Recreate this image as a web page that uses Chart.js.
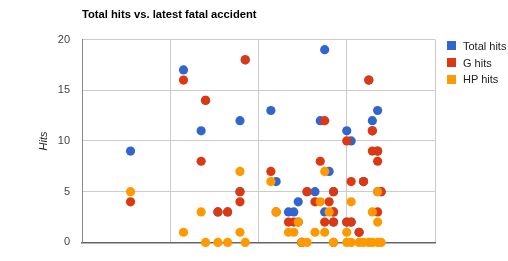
<!DOCTYPE html>
<html><head><meta charset="utf-8">
<script src="https://cdn.jsdelivr.net/npm/chart.js@4"></script>
<style>
html,body{margin:0;padding:0;background:#fff;overflow:hidden}
#wrap{position:relative;width:508px;height:261px;overflow:hidden}
#c{position:absolute;left:0;top:0}
#title{position:absolute;left:82px;top:7.5px;line-height:13px;font:bold 11.2px "Liberation Sans",Arial,sans-serif;color:#000;white-space:nowrap}
#legend{position:absolute;left:447px;top:37.7px;width:61px;overflow:hidden;font:11px "Liberation Sans",Arial,sans-serif;color:#222}
.item{height:16.6px;white-space:nowrap;display:flex;align-items:center}
.sw{width:9px;height:9px;margin-right:7px;flex:none}
</style></head>
<body>
<div id="wrap">
<canvas id="c" width="508" height="261"></canvas>
<div id="title">Total hits vs. latest fatal accident</div>
<div id="legend"></div>
</div>
<script>
// Position of each accident along the (unlabelled) horizontal axis
const accidentX = [0.55,1.15,1.35,1.40,1.54,1.65,1.79,1.79,1.85,2.14,2.20,2.34,2.40,2.45,2.49,2.55,2.64,2.70,2.75,2.75,2.80,2.85,2.85,2.85,3.00,3.00,3.05,3.05,3.14,3.19,3.25,3.29,3.29,3.35,3.35,3.35,3.39];
const totalHits = [9,17,11,14,3,3,12,5,18,13,6,3,3,4,0,5,5,12,19,3,7,5,3,2,11,2,10,2,1,6,16,12,11,13,9,5,5];
const gHits     = [4,16,8,14,3,3,5,4,18,7,3,2,2,2,0,5,4,8,12,2,4,5,3,2,10,2,6,2,1,6,16,9,11,8,9,3,5];
const hpHits    = [5,1,3,0,0,0,7,1,0,6,3,1,1,2,0,0,1,4,7,1,3,0,0,0,1,0,4,0,0,0,0,3,0,5,0,2,0];
const seriesNames = ["Total hits","G hits","HP hits"];
const seriesColors = ["#3366cc","#dc3912","#ff9900"];
const yTicks = [0,5,10,15,20];
const xGrid = [0,1,2,3,4];

const toPts = ys => ys.map((y,i)=>({x:accidentX[i], y}));
const seriesValues = [totalHits, gHits, hpHits];
const datasets = seriesValues.map((vals,i)=>({
  label: seriesNames[i],
  data: toPts(vals),
  backgroundColor: seriesColors[i],
  borderWidth: 0,
  pointRadius: 4.6,
  pointHoverRadius: 4.6,
  clip: false,
  order: 2 - i
}));

const lg = document.getElementById('legend');
seriesNames.forEach((n,i)=>{
  const d = document.createElement('div'); d.className='item';
  const s = document.createElement('span'); s.className='sw'; s.style.background=seriesColors[i];
  const t = document.createElement('span'); t.textContent = n;
  d.appendChild(s); d.appendChild(t); lg.appendChild(d);
});

new Chart(document.getElementById('c'), {
  type: 'scatter',
  data: { datasets },
  options: {
    responsive: false,
    animation: false,
    events: [],
    layout: { padding: { top: 39.5, right: 73, bottom: 4.5, left: 0 } },
    plugins: { legend: { display: false }, title: { display: false }, tooltip: { enabled: false } },
    scales: {
      x: {
        type: 'linear', min: xGrid[0], max: xGrid[xGrid.length-1],
        afterBuildTicks: s => { s.ticks = xGrid.map(v=>({value:v})); },
        ticks: { display: false },
        grid: { color: '#cccccc', drawTicks: false, lineWidth: 1 },
        border: { color: '#666666', width: 1.5 }
      },
      y: {
        min: yTicks[0], max: yTicks[yTicks.length-1],
        afterBuildTicks: s => { s.ticks = yTicks.map(v=>({value:v})); },
        afterFit: s => { s.width = 82; },
        ticks: { color: '#444444', padding: 12, font: { family: '"Liberation Sans", Arial, sans-serif', size: 11 } },
        grid: { color: '#cccccc', drawTicks: false, lineWidth: 1 },
        border: { color: '#888888', width: 1 },
        title: { display: true, text: 'Hits', color: '#222222', padding: { top: 37.5, bottom: 0 },
                 font: { family: '"Liberation Sans", Arial, sans-serif', size: 11, style: 'italic' } }
      }
    }
  }
});
</script>
</body></html>
